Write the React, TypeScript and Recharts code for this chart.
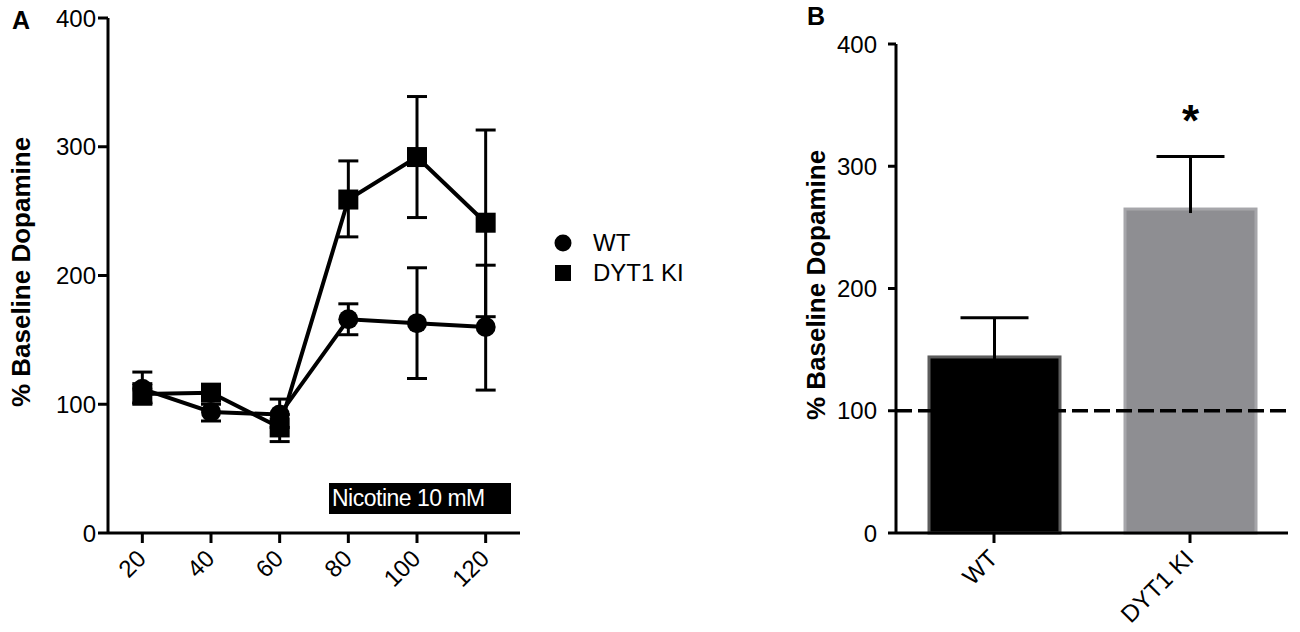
import React from 'react';
import {
  LineChart,
  Line,
  BarChart,
  Bar,
  Cell,
  XAxis,
  YAxis,
  ErrorBar,
  Legend,
  LabelList,
  ReferenceLine,
} from 'recharts';

// Panel A: dopamine over time (min), mean and error bar ends
const minutes = [20, 40, 60, 80, 100, 120];
const seriesNames = ['WT', 'DYT1 KI'];
const wtMean = [112, 94, 92, 166, 163, 160];
const wtHigh = [125, 100, 104, 178, 206, 208];
const wtLow = [100, 87, 82, 154, 120, 111];
const kiMean = [108, 109, 82, 259, 292, 241];
const kiHigh = [116, 115, 92, 289, 339, 313];
const kiLow = [101, 103, 71, 230, 245, 168];
const yTicks = [0, 100, 200, 300, 400];

// Panel B: mean response per genotype
const groups = ['WT', 'DYT1 KI'];
const groupMean = [144, 265];
const groupErr = [32, 43];
const groupSig = ['', '*'];
const groupFill = ['#000000', '#8e8e92'];
const groupEdge = ['#5c5c5c', '#a6a6aa'];
const baselinePct = 100;

const FONT = '"Liberation Sans", Arial, Helvetica, sans-serif';

const lineData = minutes.map((t, i) => ({
  t,
  wt: wtMean[i],
  wtErr: [wtMean[i] - wtLow[i], wtHigh[i] - wtMean[i]],
  ki: kiMean[i],
  kiErr: [kiMean[i] - kiLow[i], kiHigh[i] - kiMean[i]],
}));

const barData = groups.map((g, i) => ({
  name: g,
  mean: groupMean[i],
  err: groupErr[i],
  sig: groupSig[i],
}));

const RotatedTick = ({ x, y, payload }: any) => (
  <g transform={`translate(${x},${y})`}>
    <text
      x={5}
      y={15}
      textAnchor="end"
      fill="#000"
      fontSize={24}
      transform="rotate(-45 5 15)"
    >
      {payload.value}
    </text>
  </g>
);

const CircleDot = (p: any) => (
  <circle key={`c-${p.index}`} cx={p.cx} cy={p.cy} r={10} fill="#000" />
);

const SquareDot = (p: any) => (
  <rect key={`s-${p.index}`} x={p.cx - 10} y={p.cy - 10} width={20} height={20} fill="#000" />
);

const renderLegend = ({ payload }: any) => {
  const items = [...(payload || [])].sort(
    (a: any, b: any) => seriesNames.indexOf(a.value) - seriesNames.indexOf(b.value)
  );
  return (
    <div style={{ fontFamily: FONT }}>
      {items.map((entry: any) => (
        <div
          key={entry.value}
          style={{ display: 'flex', alignItems: 'center', height: 30 }}
        >
          <svg width={20} height={20}>
            {entry.type === 'circle' ? (
              <circle cx={10} cy={10} r={8.5} fill="#000" />
            ) : (
              <rect x={2} y={2} width={16} height={16} fill="#000" />
            )}
          </svg>
          <span style={{ marginLeft: 20, fontSize: 24, color: '#000' }}>{entry.value}</span>
        </div>
      ))}
    </div>
  );
};

// bar with an upward-only whisker, scaled from the bar's own geometry
const BarWithWhisker = (props: any) => {
  const { x, y, width, height, payload, fill, stroke } = props;
  const pxPerUnit = height / payload.mean;
  const top = y - payload.err * pxPerUnit;
  const cx = x + width / 2;
  return (
    <g>
      <rect x={x} y={y} width={width} height={height} fill={fill} stroke={stroke} strokeWidth={3} />
      <line x1={cx} x2={cx} y1={y + 4} y2={top} stroke="#000" strokeWidth={3} />
      <line x1={cx - 34} x2={cx + 34} y1={top} y2={top} stroke="#000" strokeWidth={3} />
    </g>
  );
};

const axisStroke = { stroke: '#000', strokeWidth: 3 };

const yLabelStyle: React.CSSProperties = {
  position: 'absolute',
  fontWeight: 'bold',
  fontSize: 26,
  whiteSpace: 'nowrap',
  transform: 'translate(-50%, -50%) rotate(-90deg)',
  color: '#000',
};

export default function App() {
  return (
    <div
      style={{
        position: 'absolute',
        left: 0,
        top: 0,
        width: 1300,
        height: 632,
        background: '#fff',
        fontFamily: FONT,
        overflow: 'hidden',
      }}
    >
      {/* Panel A */}
      <div style={{ position: 'absolute', left: 0, top: 0 }}>
        <LineChart
          width={760}
          height={632}
          data={lineData}
          margin={{ top: 18, right: 240, bottom: 0, left: 0 }}
        >
          <XAxis
            dataKey="t"
            type="number"
            domain={[10, 130]}
            ticks={minutes}
            axisLine={axisStroke}
            tickLine={axisStroke}
            tickSize={10}
            height={99}
            tick={<RotatedTick />}
            interval={0}
          />
          <YAxis
            domain={[0, 400]}
            ticks={yTicks}
            width={108}
            axisLine={axisStroke}
            tickLine={axisStroke}
            tickSize={10}
            tickMargin={2}
            tick={{ fill: '#000', fontSize: 24 }}
            interval={0}
          />
          <Line
            dataKey="wt"
            name="WT"
            stroke="#000"
            strokeWidth={4}
            dot={CircleDot}
            activeDot={false}
            legendType="circle"
            isAnimationActive={false}
          >
            <ErrorBar dataKey="wtErr" width={10} stroke="#000" strokeWidth={3} direction="y" />
          </Line>
          <Line
            dataKey="ki"
            name="DYT1 KI"
            stroke="#000"
            strokeWidth={4}
            dot={SquareDot}
            activeDot={false}
            legendType="square"
            isAnimationActive={false}
          >
            <ErrorBar dataKey="kiErr" width={10} stroke="#000" strokeWidth={3} direction="y" />
          </Line>
          <Legend
            layout="horizontal"
            verticalAlign="middle"
            align="center"
            content={renderLegend}
            wrapperStyle={{ left: 553, top: 228, width: 'auto' }}
          />
        </LineChart>
      </div>

      {/* Panel B */}
      <div style={{ position: 'absolute', left: 780, top: 0 }}>
        <BarChart
          width={520}
          height={632}
          data={barData}
          margin={{ top: 44, right: 12, bottom: 0, left: 0 }}
        >
          <XAxis
            dataKey="name"
            axisLine={axisStroke}
            tickLine={axisStroke}
            tickSize={10}
            height={99}
            tick={<RotatedTick />}
            interval={0}
          />
          <YAxis
            domain={[0, 400]}
            ticks={yTicks}
            width={116}
            axisLine={axisStroke}
            tickLine={axisStroke}
            tickSize={8}
            tickMargin={11}
            tick={{ fill: '#000', fontSize: 24 }}
            interval={0}
          />
          <Bar dataKey="mean" barSize={131} shape={<BarWithWhisker />} isAnimationActive={false}>
            {barData.map((d, i) => (
              <Cell key={d.name} fill={groupFill[i]} stroke={groupEdge[i]} />
            ))}
            <LabelList
              dataKey="sig"
              position="top"
              offset={73}
              fill="#000"
              fontSize={44}
              fontWeight="bold"
            />
          </Bar>
          <ReferenceLine
            y={baselinePct}
            stroke="#000"
            strokeWidth={3.5}
            strokeDasharray="16 6"
          />
        </BarChart>
      </div>

      {/* Annotations */}
      <div style={{ position: 'absolute', left: 12, top: 6, fontWeight: 'bold', fontSize: 25 }}>A</div>
      <div style={{ position: 'absolute', left: 807, top: 2, fontWeight: 'bold', fontSize: 25 }}>B</div>
      <div style={{ ...yLabelStyle, left: 21, top: 272 }}>% Baseline Dopamine</div>
      <div style={{ ...yLabelStyle, left: 816, top: 285 }}>% Baseline Dopamine</div>
      <div
        style={{
          position: 'absolute',
          left: 329,
          top: 483,
          width: 182,
          height: 31,
          background: '#000',
          color: '#fff',
          fontSize: 23,
          lineHeight: '31px',
          paddingLeft: 3,
          boxSizing: 'border-box',
          letterSpacing: -0.5,
        }}
      >
        Nicotine 10 mM
      </div>
    </div>
  );
}
